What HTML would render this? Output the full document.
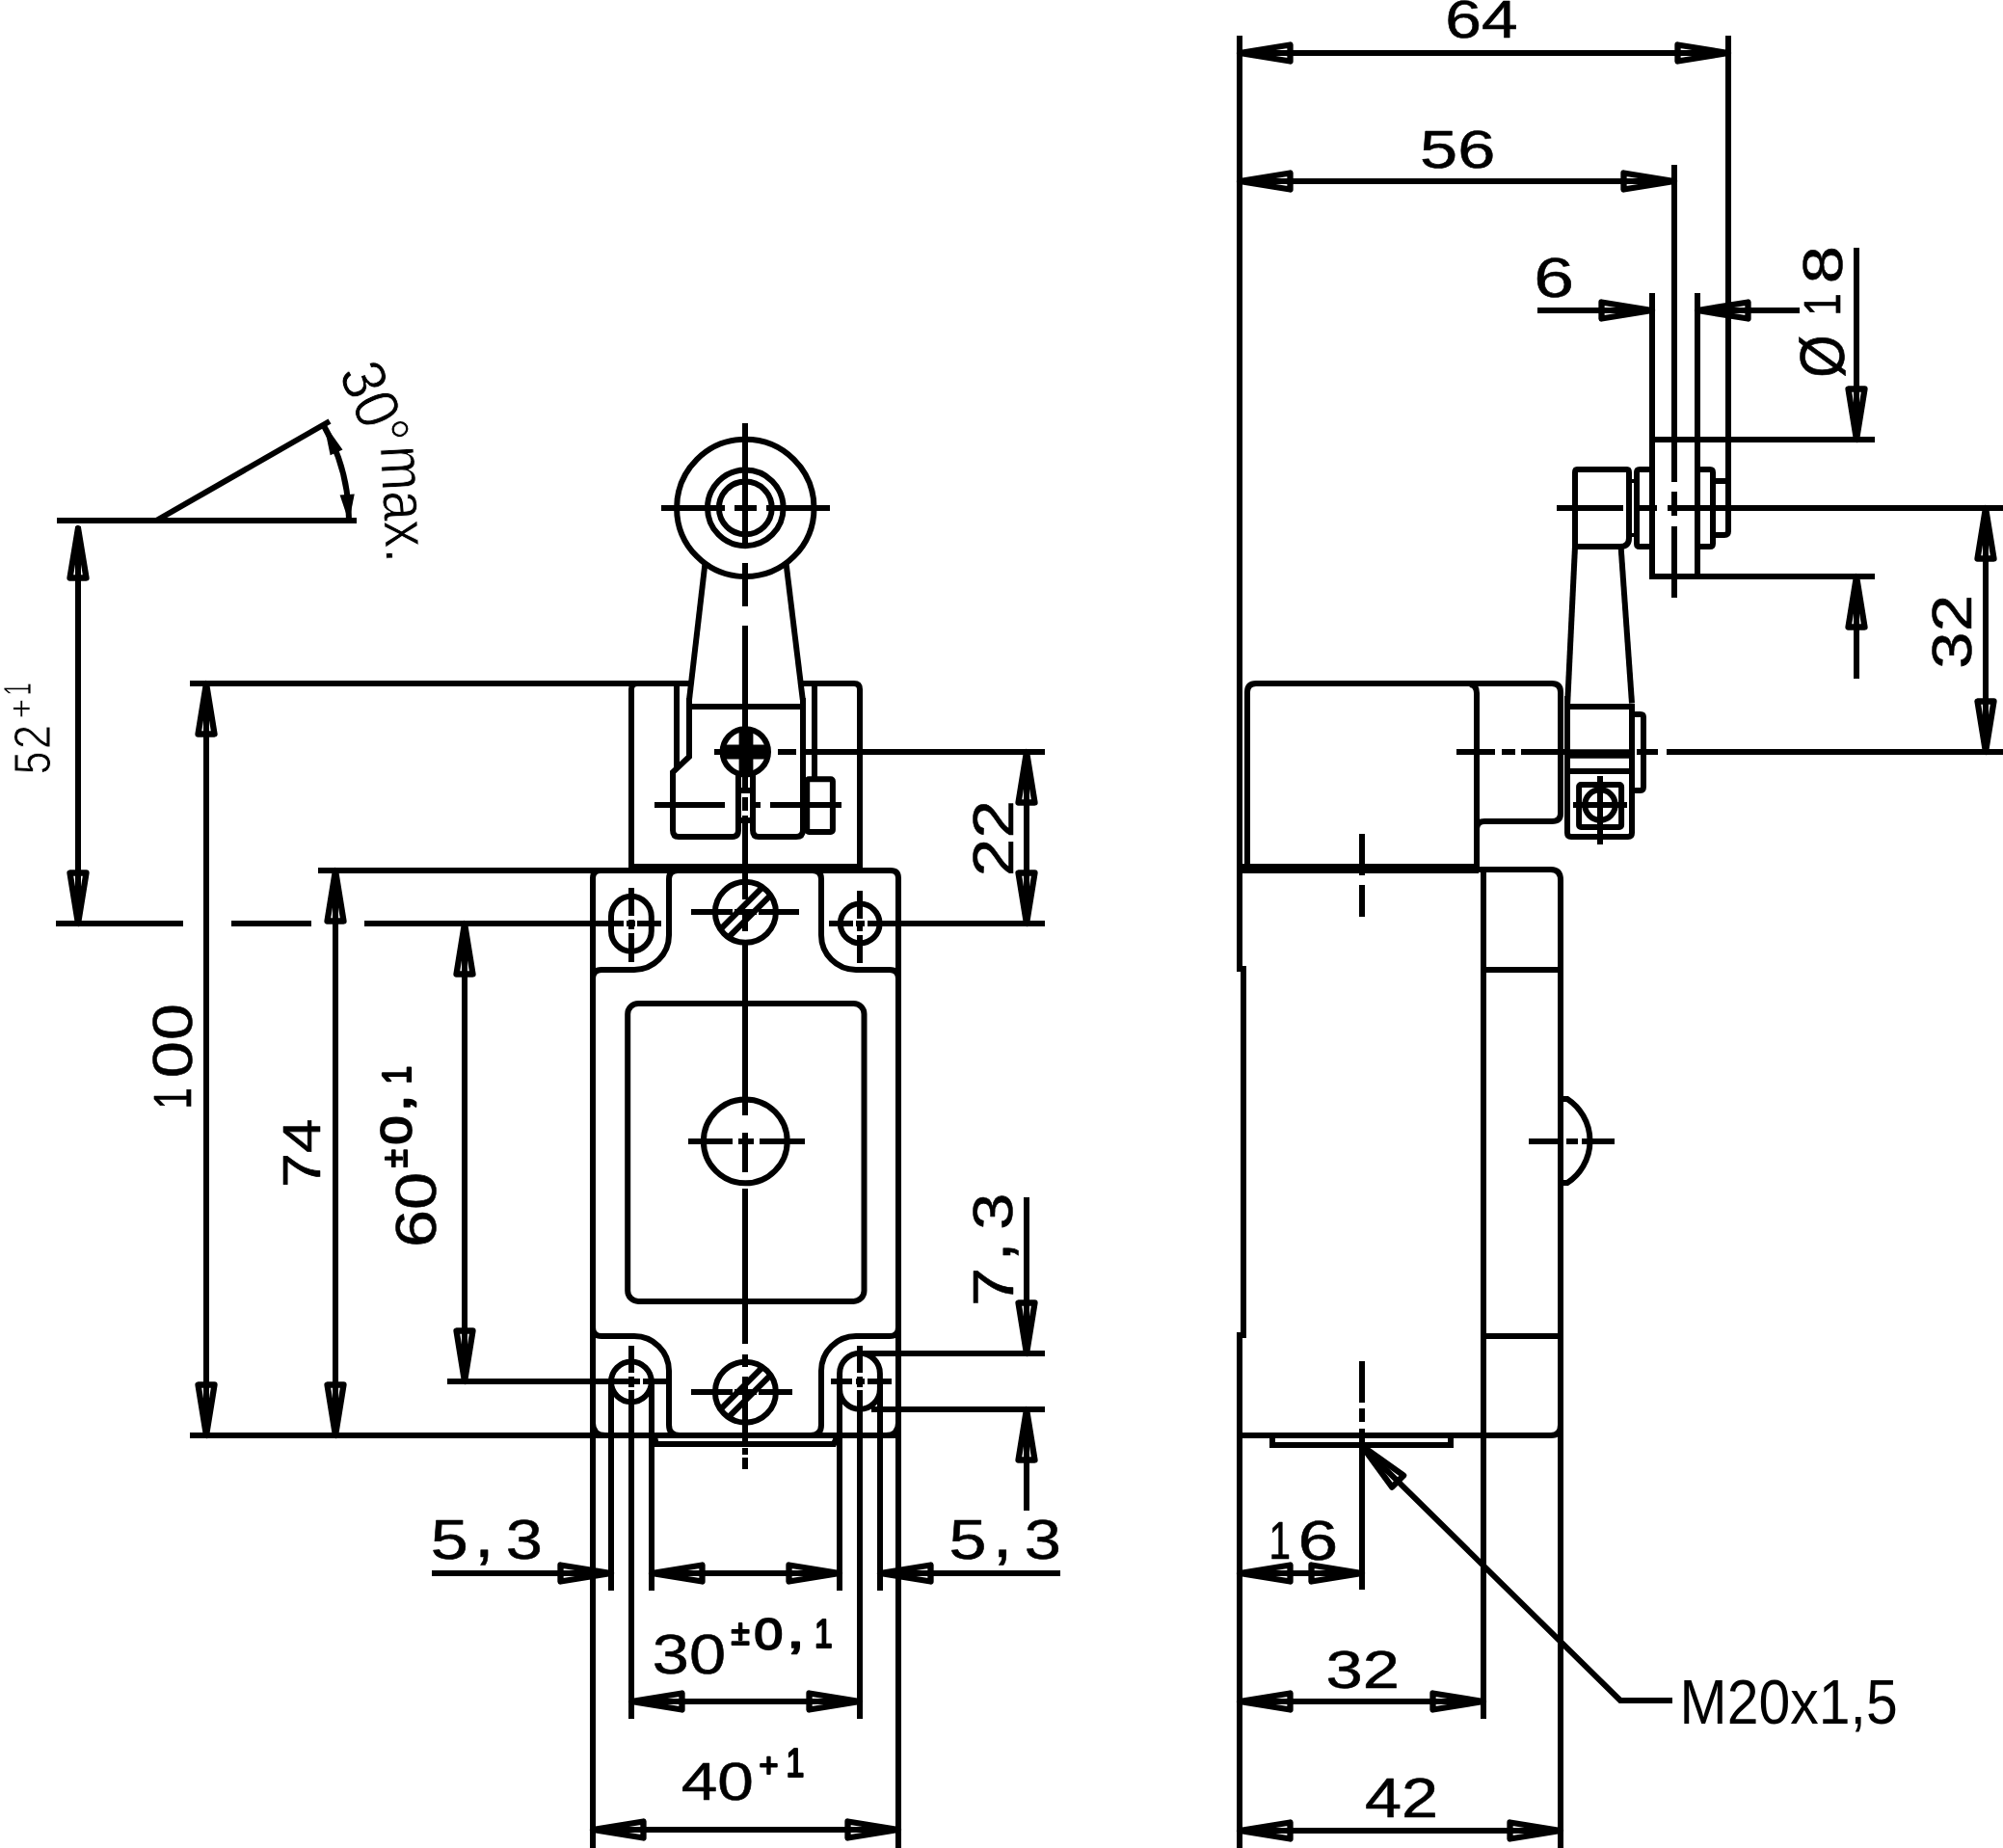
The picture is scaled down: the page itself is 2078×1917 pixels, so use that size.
<!DOCTYPE html>
<html lang="en"><head><meta charset="utf-8"><title>Limit switch dimensional drawing</title>
<style>
html,body{margin:0;padding:0;background:#fff;overflow:hidden}
svg{display:block;filter:grayscale(1)}
svg text{fill:#000;font-family:"Liberation Sans",sans-serif}
</style></head>
<body>
<svg width="2078" height="1917" viewBox="0 0 2078 1917">
<rect x="0" y="0" width="2078" height="1917" fill="#fff"/>
<g fill="none" stroke="#000" stroke-width="6" stroke-linecap="butt">
<line x1="59" y1="540" x2="370" y2="540"/>
<line x1="163" y1="539.5" x2="342" y2="437"/>
<path d="M362,540A199,199 0 0 0 335.3,440.5"/>
<polygon points="362,541.5 352.59,513.57 367.76,512.59" fill="#000" stroke="none"/>
<polygon points="335.84,439 355.47,466.59 342.63,472.17" fill="#000" stroke="none"/>
<line x1="81" y1="546" x2="81" y2="958"/>
<polygon points="81,548 89.5,599.5 72.5,599.5" stroke-linejoin="round" stroke-width="6.3"/>
<polygon points="81,958 72.5,905.5 89.5,905.5" stroke-linejoin="round" stroke-width="6.3"/>
<path d="M58,958H190M240,958H323M378,958H647M650,958H659M661,958H686"/>
<line x1="197" y1="709" x2="660" y2="709"/>
<line x1="214" y1="709" x2="214" y2="1489"/>
<polygon points="214,709 222.5,761.5 205.5,761.5" stroke-linejoin="round" stroke-width="6.3"/>
<polygon points="214,1489 205.5,1436.5 222.5,1436.5" stroke-linejoin="round" stroke-width="6.3"/>
<line x1="330" y1="903" x2="620" y2="903"/>
<line x1="348" y1="903" x2="348" y2="1489"/>
<polygon points="348,903 356.5,955.5 339.5,955.5" stroke-linejoin="round" stroke-width="6.3"/>
<polygon points="348,1489 339.5,1436.5 356.5,1436.5" stroke-linejoin="round" stroke-width="6.3"/>
<line x1="197" y1="1489" x2="620" y2="1489"/>
<line x1="482" y1="958" x2="482" y2="1433"/>
<polygon points="482,958 490.5,1010.5 473.5,1010.5" stroke-linejoin="round" stroke-width="6.3"/>
<polygon points="482,1433 473.5,1380.5 490.5,1380.5" stroke-linejoin="round" stroke-width="6.3"/>
<path d="M464,1433H664M667,1433H694"/>
<circle cx="773.3" cy="526.9" r="71.2"/>
<circle cx="773.3" cy="526.9" r="39.3"/>
<circle cx="773.3" cy="526.9" r="27.4"/>
<path d="M686,527H752M762,527H785M795,527H861"/>
<path d="M773,439V569M773,584V629M773,649V820M773,827V841M773,846V933M773,943V966M773,975V1157M773,1175V1216M773,1233V1394M773,1405V1418M773,1428V1497M773,1502V1509M773,1512V1524"/>
<line x1="731.5" y1="584" x2="715" y2="726"/>
<line x1="815.5" y1="584" x2="832.8" y2="726"/>
<line x1="715" y1="733" x2="833" y2="733"/>
<path d="M715,724V785L698,801V861Q698,868 704,868H760Q766,868 766,861V800"/>
<path d="M781,800V861Q781,868 787,868H826Q833,868 833,861V724"/>
<line x1="702" y1="709" x2="702" y2="797"/>
<line x1="845" y1="709" x2="845" y2="808"/>
<rect x="837.2" y="808.2" width="26.7" height="54.7" rx="2"/>
<path d="M679,835H752M784,835H789M799,835H873"/>
<line x1="766" y1="820" x2="781" y2="820"/>
<line x1="766" y1="851" x2="781" y2="851"/>
<circle cx="773.3" cy="779.9" r="23.7"/>
<line x1="749" y1="780" x2="798" y2="780" stroke-width="14.8"/>
<line x1="774" y1="758" x2="774" y2="801" stroke-width="14.8"/>
<path d="M741,780H750M807,780H826M836,780H1084"/>
<path d="M655,899V715Q655,709 661,709H718M830,709H886Q892,709 892,715V899"/>
<line x1="652" y1="899" x2="895" y2="899"/>
<line x1="330" y1="903" x2="624" y2="903"/>
<line x1="197" y1="1489" x2="932" y2="1489"/>
<path d="M615,1917V911Q615,903 623,903H924Q932,903 932,911V1917"/>
<path d="M694,912V970A36,36 0 0 1 658,1006H624Q615,1006 615,1015V1377Q615,1386 624,1386H658A36,36 0 0 1 694,1422V1478Q694,1489 705,1489H841Q852,1489 852,1478V1422A36,36 0 0 1 888,1386H923Q932,1386 932,1377V1015Q932,1006 923,1006H888A36,36 0 0 1 852,970V912Q852,903 843,903H703Q694,903 694,912Z"/>
<path d="M615,1476Q615,1489 628,1489"/>
<path d="M932,1476Q932,1489 919,1489"/>
<rect x="651.2" y="1040.9" width="245.3" height="309" rx="11"/>
<circle cx="773.3" cy="1183.9" r="43.4"/>
<path d="M714,1184H760M766,1184H782M788,1184H835"/>
<clipPath id="c1"><circle cx="773.4" cy="946.3" r="31.5"/></clipPath>
<circle cx="773.4" cy="946.3" r="31.5"/>
<line x1="729.23" y1="982.13" x2="809.23" y2="902.13" stroke-width="6.2" clip-path="url(#c1)"/>
<line x1="737.57" y1="990.47" x2="817.57" y2="910.47" stroke-width="6.2" clip-path="url(#c1)"/>
<path d="M717,946H760M762,946H785M787,946H829"/>
<clipPath id="c2"><circle cx="773.4" cy="1444.2" r="31.5"/></clipPath>
<circle cx="773.4" cy="1444.2" r="31.5"/>
<line x1="729.23" y1="1480.03" x2="809.23" y2="1400.03" stroke-width="6.2" clip-path="url(#c2)"/>
<line x1="737.57" y1="1488.37" x2="817.57" y2="1408.37" stroke-width="6.2" clip-path="url(#c2)"/>
<path d="M717,1444H760M762,1444H785M787,1444H822"/>
<rect x="634" y="929.7" width="41.8" height="57" rx="20.9"/>
<path d="M655,921V950M655,954V964M655,968V998"/>
<circle cx="892.2" cy="958" r="20.4"/>
<path d="M892,924V953M892,955V966M892,970V999"/>
<path d="M860,958H885M888,958H897M900,958H1084"/>
<circle cx="654.9" cy="1433.3" r="20.9"/>
<path d="M655,1396V1424M655,1428V1439M655,1442V1783"/>
<rect x="871.1" y="1403.8" width="41.8" height="58" rx="20.9"/>
<path d="M892,1396V1424M892,1428V1439M892,1442V1783"/>
<path d="M862,1433H884M888,1433H897M900,1433H925"/>
<line x1="634" y1="1433" x2="634" y2="1650"/>
<line x1="676" y1="1433" x2="676" y2="1650"/>
<line x1="871" y1="1433" x2="871" y2="1650"/>
<line x1="913" y1="1433" x2="913" y2="1650"/>
<path d="M679,1491L681,1498H865L868,1491"/>
<line x1="892" y1="1404" x2="1084" y2="1404"/>
<line x1="904" y1="1462" x2="1084" y2="1462"/>
<line x1="1065" y1="1242" x2="1065" y2="1404"/>
<polygon points="1065,1404 1056.5,1351.5 1073.5,1351.5" stroke-linejoin="round" stroke-width="6.3"/>
<line x1="1065" y1="1462" x2="1065" y2="1567"/>
<polygon points="1065,1462 1073.5,1514.5 1056.5,1514.5" stroke-linejoin="round" stroke-width="6.3"/>
<line x1="1065" y1="780" x2="1065" y2="958"/>
<polygon points="1065,780 1073.5,832.5 1056.5,832.5" stroke-linejoin="round" stroke-width="6.3"/>
<polygon points="1065,958 1056.5,905.5 1073.5,905.5" stroke-linejoin="round" stroke-width="6.3"/>
<line x1="448" y1="1632" x2="634" y2="1632"/>
<polygon points="634,1632 581.5,1640.5 581.5,1623.5" stroke-linejoin="round" stroke-width="6.3"/>
<line x1="913" y1="1632" x2="1100" y2="1632"/>
<polygon points="913,1632 965.5,1623.5 965.5,1640.5" stroke-linejoin="round" stroke-width="6.3"/>
<line x1="676" y1="1632" x2="871" y2="1632"/>
<polygon points="676,1632 728.5,1623.5 728.5,1640.5" stroke-linejoin="round" stroke-width="6.3"/>
<polygon points="871,1632 818.5,1640.5 818.5,1623.5" stroke-linejoin="round" stroke-width="6.3"/>
<line x1="655" y1="1765" x2="892" y2="1765"/>
<polygon points="655,1765 707.5,1756.5 707.5,1773.5" stroke-linejoin="round" stroke-width="6.3"/>
<polygon points="892,1765 839.5,1773.5 839.5,1756.5" stroke-linejoin="round" stroke-width="6.3"/>
<line x1="615" y1="1898" x2="932" y2="1898"/>
<polygon points="615,1898 667.5,1889.5 667.5,1906.5" stroke-linejoin="round" stroke-width="6.3"/>
<polygon points="932,1898 879.5,1906.5 879.5,1889.5" stroke-linejoin="round" stroke-width="6.3"/>
<path d="M1286,37V1005H1290V1385H1286V1917"/>
<line x1="1286" y1="55" x2="1793" y2="55"/>
<polygon points="1286,55 1338.5,46.5 1338.5,63.5" stroke-linejoin="round" stroke-width="6.3"/>
<polygon points="1793,55 1740.5,63.5 1740.5,46.5" stroke-linejoin="round" stroke-width="6.3"/>
<path d="M1793,37V551Q1793,555 1789,555H1777"/>
<line x1="1286" y1="188" x2="1737" y2="188"/>
<polygon points="1286,188 1338.5,179.5 1338.5,196.5" stroke-linejoin="round" stroke-width="6.3"/>
<polygon points="1737,188 1684.5,196.5 1684.5,179.5" stroke-linejoin="round" stroke-width="6.3"/>
<path d="M1737,171V500M1737,510V535M1737,546V620"/>
<line x1="1595" y1="322" x2="1714" y2="322"/>
<polygon points="1714,322 1661.5,330.5 1661.5,313.5" stroke-linejoin="round" stroke-width="6.3"/>
<line x1="1761" y1="322" x2="1867" y2="322"/>
<polygon points="1761,322 1813.5,313.5 1813.5,330.5" stroke-linejoin="round" stroke-width="6.3"/>
<line x1="1714" y1="304" x2="1714" y2="598"/>
<line x1="1761" y1="304" x2="1761" y2="598"/>
<line x1="1711" y1="456" x2="1945" y2="456"/>
<line x1="1711" y1="598" x2="1945" y2="598"/>
<line x1="1926" y1="257" x2="1926" y2="456"/>
<polygon points="1926,456 1917.5,403.5 1934.5,403.5" stroke-linejoin="round" stroke-width="6.3"/>
<line x1="1926" y1="598" x2="1926" y2="704"/>
<polygon points="1926,598 1934.5,650.5 1917.5,650.5" stroke-linejoin="round" stroke-width="6.3"/>
<path d="M1615,527H1684M1696,527H1719M1730,527H2078"/>
<line x1="2060" y1="527" x2="2060" y2="780"/>
<polygon points="2060,527 2068.5,579.5 2051.5,579.5" stroke-linejoin="round" stroke-width="6.3"/>
<polygon points="2060,780 2051.5,727.5 2068.5,727.5" stroke-linejoin="round" stroke-width="6.3"/>
<path d="M1511,780H1551M1558,780H1572M1578,780H1626M1698,780H1720M1729,780H2078"/>
<path d="M1634,567V490Q1634,487 1636,487H1688Q1690,487 1690,490V558Q1690,567 1681,567Z"/>
<path d="M1714,487H1701Q1698,487 1698,490V564Q1698,567 1701,567H1714"/>
<path d="M1690,499H1698M1690,555H1698" stroke-width="4"/>
<path d="M1761,487H1774Q1777,487 1777,490V564Q1777,567 1774,567H1761"/>
<line x1="1777" y1="499" x2="1793" y2="499"/>
<line x1="1634" y1="567.1" x2="1626.2" y2="729.5"/>
<line x1="1681.6" y1="567.1" x2="1693" y2="729.5"/>
<path d="M1626,722V864Q1626,868 1630,868H1689Q1693,868 1693,864V730"/>
<line x1="1626" y1="733" x2="1693" y2="733"/>
<line x1="1626" y1="782" x2="1693" y2="782" stroke-width="9.5"/>
<line x1="1626" y1="800" x2="1693" y2="800"/>
<path d="M1693,741H1702Q1705,741 1705,744V816Q1705,820 1702,820H1693"/>
<rect x="1638.1" y="814.1" width="44" height="43.9" rx="2"/>
<circle cx="1660" cy="835" r="15.7"/>
<line x1="1632" y1="835" x2="1688" y2="835"/>
<line x1="1660" y1="805" x2="1660" y2="876"/>
<path d="M1294,899V718Q1294,709 1303,709H1610Q1619,709 1619,718V844Q1619,852 1610,852H1540Q1533,852 1532,859"/>
<path d="M1532,899V719Q1532,711 1525,710"/>
<line x1="1286" y1="899" x2="1534" y2="899"/>
<line x1="1286" y1="903" x2="1534" y2="903"/>
<path d="M1531,902H1609Q1619,902 1619,913V1478Q1619,1489 1609,1489H1286"/>
<line x1="1619" y1="1470" x2="1619" y2="1917"/>
<line x1="1539" y1="902" x2="1539" y2="1783"/>
<line x1="1539" y1="1006" x2="1619" y2="1006"/>
<line x1="1539" y1="1386" x2="1619" y2="1386"/>
<path d="M1320,1491V1499H1505V1491"/>
<path d="M1413,865V908M1413,918V951M1413,1412V1455M1413,1461V1475M1413,1482V1649"/>
<path d="M1619,1140H1626A52,52 0 0 1 1626,1227H1619"/>
<path d="M1586,1184H1618M1625,1184H1637M1641,1184H1675"/>
<line x1="1286" y1="1632" x2="1413" y2="1632"/>
<polygon points="1286,1632 1338.5,1623.5 1338.5,1640.5" stroke-linejoin="round" stroke-width="6.3"/>
<polygon points="1413,1632 1360.5,1640.5 1360.5,1623.5" stroke-linejoin="round" stroke-width="6.3"/>
<line x1="1286" y1="1765" x2="1539" y2="1765"/>
<polygon points="1286,1765 1338.5,1756.5 1338.5,1773.5" stroke-linejoin="round" stroke-width="6.3"/>
<polygon points="1539,1765 1486.5,1773.5 1486.5,1756.5" stroke-linejoin="round" stroke-width="6.3"/>
<line x1="1286" y1="1899" x2="1619" y2="1899"/>
<polygon points="1286,1899 1338.5,1890.5 1338.5,1907.5" stroke-linejoin="round" stroke-width="6.3"/>
<polygon points="1619,1899 1566.5,1907.5 1566.5,1890.5" stroke-linejoin="round" stroke-width="6.3"/>
<path d="M1413,1500L1681,1764H1735"/>
<polygon points="1412.8,1499.7 1456.12,1530.55 1444.17,1542.64" stroke-linejoin="round" stroke-width="6.3"/>
</g>
<g>
<text transform="translate(53.1,801.8) rotate(-90) scale(0.4274,0.5426)" x="-3.12" y="-1.56" font-family="'Liberation Sans', sans-serif" font-size="100" stroke="#fff" stroke-width="0.8" vector-effect="non-scaling-stroke">5</text>
<text transform="translate(52,775.1) rotate(-90) scale(0.4587,0.5390)" x="-4.69" y="-0" font-family="'Liberation Sans', sans-serif" font-size="100" stroke="#fff" stroke-width="0.8" vector-effect="non-scaling-stroke">2</text>
<text transform="translate(30.9,743.8) rotate(-90) scale(0.3580,0.3580)" x="-4.69" y="7.81" font-family="'Liberation Sans', sans-serif" font-size="100" stroke="#fff" stroke-width="0.6" vector-effect="non-scaling-stroke">+</text>
<text transform="translate(32,719.9) rotate(-90) scale(0.2406,0.3996)" x="-6.25" y="-0" font-family="'Liberation Sans', sans-serif" font-size="100" stroke="#fff" stroke-width="0.6" vector-effect="non-scaling-stroke">1</text>
<text transform="translate(197.9,1147.9) rotate(-90) scale(0.3994,0.5547)" x="-6.25" y="-0" font-family="'Liberation Sans', sans-serif" font-size="100" stroke="#000" stroke-width="0.6" vector-effect="non-scaling-stroke" stroke-linejoin="round">1</text>
<text transform="translate(200.1,1116.1) rotate(-90) scale(0.6860,0.5732)" x="-3.12" y="-1.56" font-family="'Liberation Sans', sans-serif" font-size="100" stroke="#000" stroke-width="0.6" vector-effect="non-scaling-stroke" stroke-linejoin="round">0</text>
<text transform="translate(200.1,1077) rotate(-90) scale(0.6800,0.5732)" x="-3.12" y="-1.56" font-family="'Liberation Sans', sans-serif" font-size="100" stroke="#000" stroke-width="0.6" vector-effect="non-scaling-stroke" stroke-linejoin="round">0</text>
<text transform="translate(422.4,1210.1) rotate(-90) scale(0.3500,0.3709)" x="-3.12" y="-0" font-family="'Liberation Sans', sans-serif" font-size="100" stroke="#000" stroke-width="2" vector-effect="non-scaling-stroke" stroke-linejoin="round">±</text>
<text transform="translate(428.2,1185.7) rotate(-90) scale(0.5400,0.4605)" x="-3.12" y="-1.56" font-family="'Liberation Sans', sans-serif" font-size="100" stroke="#000" stroke-width="2" vector-effect="non-scaling-stroke" stroke-linejoin="round">0</text>
<text transform="translate(432.3,1148.7) rotate(-90) scale(0.7120,0.5240)" x="-7.81" y="-14.06" font-family="'Liberation Sans', sans-serif" font-size="100" stroke="#000" stroke-width="2" vector-effect="non-scaling-stroke" stroke-linejoin="round">,</text>
<text transform="translate(425.5,1122.5) rotate(-90) scale(0.3354,0.4167)" x="-6.25" y="-0" font-family="'Liberation Sans', sans-serif" font-size="100" stroke="#000" stroke-width="2" vector-effect="non-scaling-stroke" stroke-linejoin="round">1</text>
<text transform="translate(1050.9,1351.8) rotate(-90) scale(0.7253,0.5959)" x="-4.69" y="-0" font-family="'Liberation Sans', sans-serif" font-size="100" stroke="#000" stroke-width="0.6" vector-effect="non-scaling-stroke" stroke-linejoin="round">7</text>
<text transform="translate(1057.2,1303.1) rotate(-90) scale(0.7600,0.6600)" x="-7.81" y="-14.06" font-family="'Liberation Sans', sans-serif" font-size="100" stroke="#000" stroke-width="0.6" vector-effect="non-scaling-stroke" stroke-linejoin="round">,</text>
<text transform="translate(1050.9,1273.7) rotate(-90) scale(0.6854,0.5830)" x="-3.12" y="-1.56" font-family="'Liberation Sans', sans-serif" font-size="100" stroke="#000" stroke-width="0.6" vector-effect="non-scaling-stroke" stroke-linejoin="round">3</text>
<text transform="translate(448.9,1617.9) rotate(0) scale(0.7019,0.5830)" x="-3.12" y="-1.56" font-family="'Liberation Sans', sans-serif" font-size="100" stroke="#000" stroke-width="0.6" vector-effect="non-scaling-stroke" stroke-linejoin="round">5</text>
<text transform="translate(497.6,1624.2) rotate(0) scale(0.7600,0.6600)" x="-7.81" y="-14.06" font-family="'Liberation Sans', sans-serif" font-size="100" stroke="#000" stroke-width="0.6" vector-effect="non-scaling-stroke" stroke-linejoin="round">,</text>
<text transform="translate(527,1617.9) rotate(0) scale(0.6854,0.5830)" x="-3.12" y="-1.56" font-family="'Liberation Sans', sans-serif" font-size="100" stroke="#000" stroke-width="0.6" vector-effect="non-scaling-stroke" stroke-linejoin="round">3</text>
<text transform="translate(986.8,1617.9) rotate(0) scale(0.7019,0.5830)" x="-3.12" y="-1.56" font-family="'Liberation Sans', sans-serif" font-size="100" stroke="#000" stroke-width="0.6" vector-effect="non-scaling-stroke" stroke-linejoin="round">5</text>
<text transform="translate(1035.5,1624.2) rotate(0) scale(0.7600,0.6600)" x="-7.81" y="-14.06" font-family="'Liberation Sans', sans-serif" font-size="100" stroke="#000" stroke-width="0.6" vector-effect="non-scaling-stroke" stroke-linejoin="round">,</text>
<text transform="translate(1064.9,1617.9) rotate(0) scale(0.6854,0.5830)" x="-3.12" y="-1.56" font-family="'Liberation Sans', sans-serif" font-size="100" stroke="#000" stroke-width="0.6" vector-effect="non-scaling-stroke" stroke-linejoin="round">3</text>
<text transform="translate(759.6,1706.2) rotate(0) scale(0.3500,0.3709)" x="-3.12" y="-0" font-family="'Liberation Sans', sans-serif" font-size="100" stroke="#000" stroke-width="2" vector-effect="non-scaling-stroke" stroke-linejoin="round">±</text>
<text transform="translate(784,1712) rotate(0) scale(0.5400,0.4605)" x="-3.12" y="-1.56" font-family="'Liberation Sans', sans-serif" font-size="100" stroke="#000" stroke-width="2" vector-effect="non-scaling-stroke" stroke-linejoin="round">0</text>
<text transform="translate(821,1716.1) rotate(0) scale(0.7120,0.5240)" x="-7.81" y="-14.06" font-family="'Liberation Sans', sans-serif" font-size="100" stroke="#000" stroke-width="2" vector-effect="non-scaling-stroke" stroke-linejoin="round">,</text>
<text transform="translate(847.2,1709.3) rotate(0) scale(0.3354,0.4167)" x="-6.25" y="-0" font-family="'Liberation Sans', sans-serif" font-size="100" stroke="#000" stroke-width="2" vector-effect="non-scaling-stroke" stroke-linejoin="round">1</text>
<text transform="translate(789.1,1840.1) rotate(0) scale(0.3420,0.3440)" x="-4.69" y="7.81" font-family="'Liberation Sans', sans-serif" font-size="100" stroke="#000" stroke-width="2" vector-effect="non-scaling-stroke" stroke-linejoin="round">+</text>
<text transform="translate(817.7,1843) rotate(0) scale(0.3399,0.4181)" x="-6.25" y="-0" font-family="'Liberation Sans', sans-serif" font-size="100" stroke="#000" stroke-width="2" vector-effect="non-scaling-stroke" stroke-linejoin="round">1</text>
<text transform="translate(1909.1,325.1) rotate(-90) scale(0.4259,0.5419)" x="-6.25" y="-0" font-family="'Liberation Sans', sans-serif" font-size="100" stroke="#000" stroke-width="0.6" vector-effect="non-scaling-stroke" stroke-linejoin="round">1</text>
<text transform="translate(1912.1,292) rotate(-90) scale(0.7040,0.5718)" x="-3.12" y="-1.56" font-family="'Liberation Sans', sans-serif" font-size="100" stroke="#000" stroke-width="0.6" vector-effect="non-scaling-stroke" stroke-linejoin="round">8</text>
<text transform="translate(1914.6,390.1) rotate(-90) scale(0.5663,0.6400)" x="-3.12" y="-3.12" font-family="'Liberation Sans', sans-serif" font-size="100" stroke="#000" stroke-width="0.6" vector-effect="non-scaling-stroke" stroke-linejoin="round">Ø</text>
<text transform="translate(1319.1,1616.5) rotate(0) scale(0.4039,0.5575)" x="-6.25" y="-0" font-family="'Liberation Sans', sans-serif" font-size="100" stroke="#000" stroke-width="0.6" vector-effect="non-scaling-stroke" stroke-linejoin="round">1</text>
<text transform="translate(1350,1618.5) rotate(0) scale(0.7509,0.5732)" x="-4.69" y="-1.56" font-family="'Liberation Sans', sans-serif" font-size="100" stroke="#000" stroke-width="0.6" vector-effect="non-scaling-stroke" stroke-linejoin="round">6</text>
<text transform="translate(351.5,388.8) rotate(67) scale(0.5980,0.6508)" x="-3.12" y="0" font-family="'Liberation Sans', sans-serif" font-size="100" stroke="#fff" stroke-width="0.8" vector-effect="non-scaling-stroke">30°</text>
<text transform="translate(394.7,466.8) rotate(87) scale(0.5585,0.6508)" x="-6.25" y="0" font-family="'Liberation Sans', sans-serif" font-size="100" stroke="#fff" stroke-width="0.8" vector-effect="non-scaling-stroke">max.</text>
<text transform="translate(331.6,1229.1) rotate(-90) scale(0.6458,0.5517)" x="-4.69" y="0" font-family="'Liberation Sans', sans-serif" font-size="100" stroke="#000" stroke-width="0.6" vector-effect="non-scaling-stroke" stroke-linejoin="round">74</text>
<text transform="translate(452.2,1290.8) rotate(-90) scale(0.7035,0.5894)" x="-4.69" y="0" font-family="'Liberation Sans', sans-serif" font-size="100" stroke="#000" stroke-width="0.6" vector-effect="non-scaling-stroke" stroke-linejoin="round">60</text>
<text transform="translate(1051.3,905.8) rotate(-90) scale(0.7113,0.5908)" x="-4.69" y="0" font-family="'Liberation Sans', sans-serif" font-size="100" stroke="#000" stroke-width="0.6" vector-effect="non-scaling-stroke" stroke-linejoin="round">22</text>
<text transform="translate(678.9,1736) rotate(0) scale(0.6855,0.5726)" x="-3.12" y="0" font-family="'Liberation Sans', sans-serif" font-size="100" stroke="#000" stroke-width="0.6" vector-effect="non-scaling-stroke" stroke-linejoin="round">30</text>
<text transform="translate(707.8,1867.4) rotate(0) scale(0.6755,0.5461)" x="-1.56" y="0" font-family="'Liberation Sans', sans-serif" font-size="100" stroke="#000" stroke-width="0.6" vector-effect="non-scaling-stroke" stroke-linejoin="round">40</text>
<text transform="translate(1502.5,39.4) rotate(0) scale(0.6766,0.5587)" x="-4.69" y="0" font-family="'Liberation Sans', sans-serif" font-size="100" stroke="#000" stroke-width="0.6" vector-effect="non-scaling-stroke" stroke-linejoin="round">64</text>
<text transform="translate(1475.2,173.6) rotate(0) scale(0.7035,0.5587)" x="-3.12" y="0" font-family="'Liberation Sans', sans-serif" font-size="100" stroke="#000" stroke-width="0.6" vector-effect="non-scaling-stroke" stroke-linejoin="round">56</text>
<text transform="translate(1594.8,308.1) rotate(0) scale(0.7509,0.5698)" x="-4.69" y="0" font-family="'Liberation Sans', sans-serif" font-size="100" stroke="#000" stroke-width="0.6" vector-effect="non-scaling-stroke" stroke-linejoin="round">6</text>
<text transform="translate(2044.8,691.5) rotate(-90) scale(0.6891,0.5698)" x="-3.12" y="0" font-family="'Liberation Sans', sans-serif" font-size="100" stroke="#000" stroke-width="0.6" vector-effect="non-scaling-stroke" stroke-linejoin="round">32</text>
<text transform="translate(1377.6,1751) rotate(0) scale(0.6872,0.5628)" x="-3.12" y="0" font-family="'Liberation Sans', sans-serif" font-size="100" stroke="#000" stroke-width="0.6" vector-effect="non-scaling-stroke" stroke-linejoin="round">32</text>
<text transform="translate(1417,1885.2) rotate(0) scale(0.6846,0.5698)" x="-1.56" y="0" font-family="'Liberation Sans', sans-serif" font-size="100" stroke="#000" stroke-width="0.6" vector-effect="non-scaling-stroke" stroke-linejoin="round">42</text>
<text transform="translate(1747.2,1787.9) rotate(0) scale(0.5895,0.6508)" x="-7.81" y="0" font-family="'Liberation Sans', sans-serif" font-size="100">M20x1,5</text>
</g>
</svg>
</body></html>
